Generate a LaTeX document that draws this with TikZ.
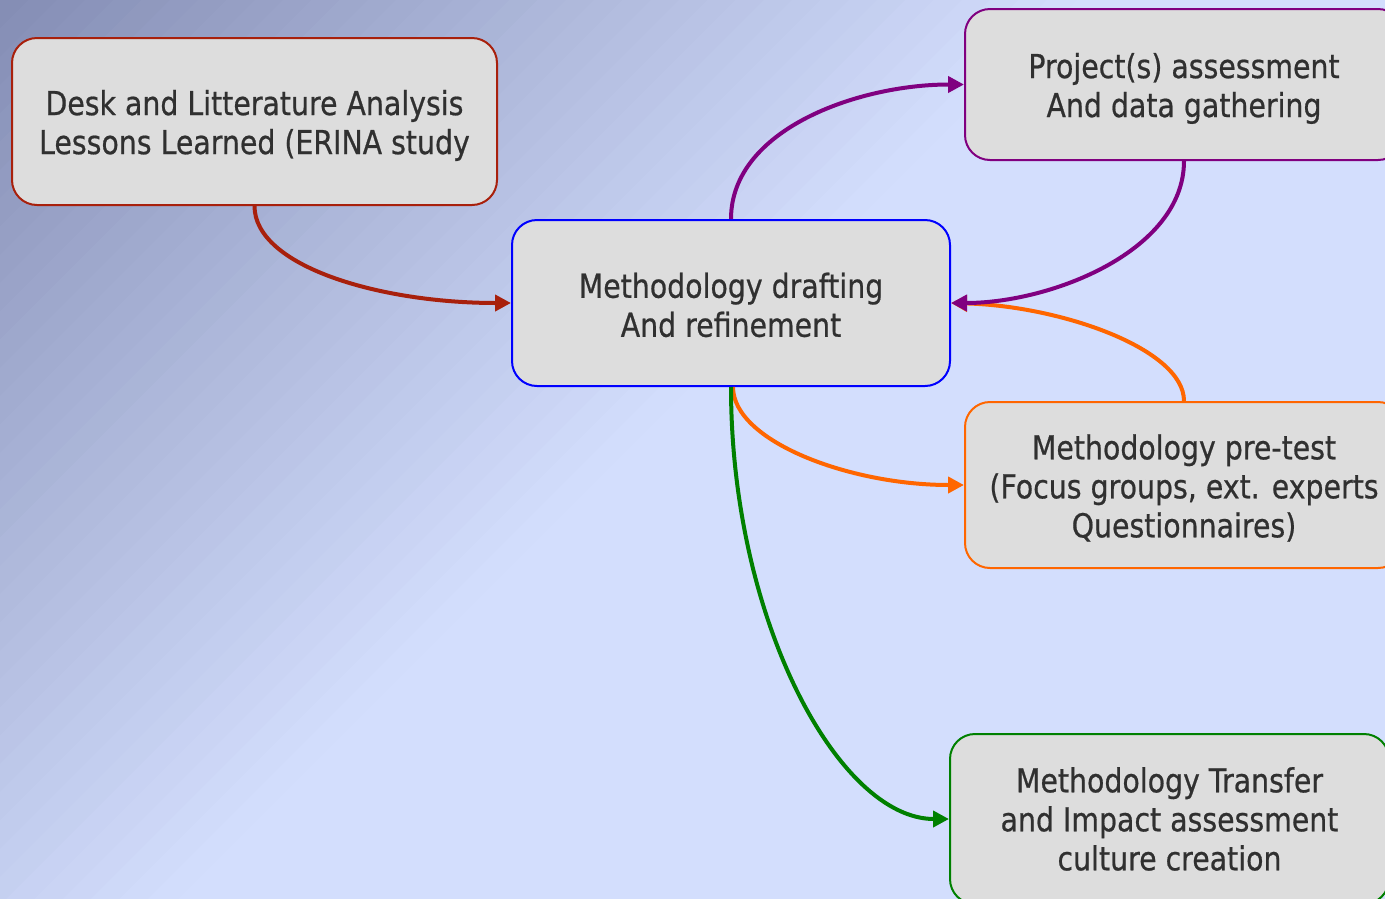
\documentclass[tikz,border=0pt]{standalone}
\usepackage{fontspec}
\setmainfont[FakeStretch=0.86,FakeBold=0.6]{DejaVu Sans}
\usetikzlibrary{arrows.meta}
\definecolor{bgdark}{RGB}{132,141,180}
\definecolor{bglight}{RGB}{211,222,253}
\definecolor{boxfill}{RGB}{221,221,221}
\definecolor{txt}{RGB}{48,48,48}
\definecolor{cred}{RGB}{168,32,12}
\definecolor{cpurple}{RGB}{128,0,128}
\definecolor{corange}{RGB}{255,102,0}
\definecolor{cgreen}{RGB}{0,128,0}
\definecolor{cblue}{RGB}{0,0,255}
\tikzset{
  stepbox/.style={draw, fill=boxfill, rounded corners=25pt, line width=2pt,
    inner sep=0pt, align=center, text=txt,
    font=\fontsize{33pt}{39pt}\selectfont},
  conn/.style={line width=4pt, -{Triangle[length=16pt,width=16pt]}}
}
\begin{document}
\begin{tikzpicture}[x=1pt,y=-1pt]
\useasboundingbox (0,0) rectangle (1385,898);
% background gradient
\begin{scope}
\clip (-5,-5) rectangle (1390,903);
\fill[bglight] (-5,-5) rectangle (1390,903);
\foreach \i in {0,...,37}{
  \pgfmathsetmacro{\da}{\i*20}
  \pgfmathsetmacro{\db}{\i*20+21}
  \pgfmathsetmacro{\p}{100-(\i+0.5)*100/38}
  \fill[bgdark!\p!bglight]
    ({(\da-1300)*0.7071},{(\da+1300)*0.7071}) --
    ({(\da+1300)*0.7071},{(\da-1300)*0.7071}) --
    ({(\db+1300)*0.7071},{(\db-1300)*0.7071}) --
    ({(\db-1300)*0.7071},{(\db+1300)*0.7071}) -- cycle;
}
\end{scope}
% nodes
\node[stepbox, draw=cred, minimum width=485pt, minimum height=167pt, text height=72pt] (desk) at (254.5,121.5)
  {Desk and Litterature Analysis\\Lessons Learned (ERINA study};
\node[stepbox, draw=cblue, minimum width=438pt, minimum height=166pt, text height=68pt] (meth) at (731,303)
  {Methodology drafting\\And refinement};
\node[stepbox, draw=cpurple, minimum width=438pt, minimum height=151pt, text height=72pt] (proj) at (1184,84.5)
  {Project(s) assessment\\And data gathering};
\node[stepbox, draw=corange, minimum width=438pt, minimum height=166pt, text height=109pt] (pre) at (1184,485)
  {Methodology pre-test\\(Focus groups, ext. experts\\Questionnaires)};
\node[stepbox, draw=cgreen, minimum width=439pt, minimum height=170pt] (trans) at (1169.5,819)
  {Methodology Transfer\\and Impact assessment\\culture creation};
% connectors
\draw[conn, cred] (desk.south) .. controls +(0,60) and +(-132,0) .. (meth.west);
\draw[conn, corange] (pre.north) .. controls +(0,-52) and +(110,3) .. (meth.east);
\draw[conn, cpurple] (meth.north) .. controls +(0,-90) and +(-105,0) .. (proj.west);
\draw[conn, cpurple] (proj.south) .. controls +(0,90) and +(100,0) .. (meth.east);
\draw[conn, corange] ([xshift=2pt]meth.south) .. controls +(0,54) and +(-115,0) .. (pre.west);
\draw[conn, cgreen] (meth.south) .. controls +(0,234) and +(-110,0) .. (trans.west);
\end{tikzpicture}
\end{document}
